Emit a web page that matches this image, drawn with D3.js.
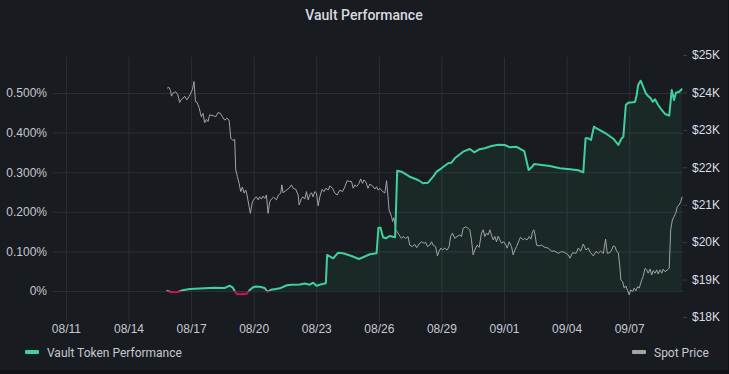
<!DOCTYPE html>
<html>
<head>
<meta charset="utf-8">
<script src="https://cdn.jsdelivr.net/npm/d3@7"></script>
<style>
  body { margin: 0; background: #111217; }
  svg { display: block; font-family: Roboto, Inter, sans-serif; }
  .title { fill: #d8d9e0; font-size: 14px; font-weight: 500; }
  .tick text { fill: #c7c8d2; font-size: 12px; }
  .legend-text { fill: #c7c8d2; font-size: 12px; }
  .grid line { stroke: #2c2f35; }
  .grid .domain { display: none; }
</style>
</head>
<body>
<svg></svg>
<script>
// x values are days after 08/11/2022
var xTickLabels = ["08/11","08/14","08/17","08/20","08/23","08/26","08/29","09/01","09/04","09/07"];
var leftTicks = [0, 0.1, 0.2, 0.3, 0.4, 0.5];
var rightTicks = [18000, 19000, 20000, 21000, 22000, 23000, 24000, 25000];

var vaultDays = [4.82,5.07,5.36,5.6,5.93,6.41,7.13,7.61,7.85,8.0,8.09,8.19,8.48,8.67,8.81,8.95,9.1,9.29,9.53,9.67,9.82,
  10.06,10.25,10.59,10.83,11.21,11.45,11.69,11.85,12.01,12.25,12.46,12.52,12.81,13.05,13.29,13.69,14.05,14.57,14.89,
  14.98,15.08,15.2,15.33,15.53,15.78,15.88,16.09,16.48,16.88,17.12,17.36,17.6,17.77,18.0,18.32,18.48,18.64,19.04,19.36,
  19.57,19.81,20.08,20.4,20.72,21.04,21.28,21.57,21.73,21.97,22.18,22.32,22.45,22.72,23.2,23.68,24.16,24.56,24.8,24.91,
  25.04,25.17,25.31,25.44,25.92,26.24,26.48,26.64,26.72,26.84,26.95,27.28,27.36,27.43,27.55,27.67,27.8,27.91,28.03,
  28.13,28.24,28.39,28.56,28.72,28.92,29.04,29.15,29.24,29.4,29.54];
var vaultPerf = [0.001,-0.0033,-0.0025,0.0018,0.005,0.0063,0.0083,0.0076,0.0134,0.0083,0,-0.0076,-0.0083,-0.0068,0.0025,
  0.0088,0.0114,0.0106,0.0076,-0.0025,0.0033,0.0051,0.0068,0.0144,0.0159,0.0164,0.0189,0.0159,0.021,0.0134,0.0169,0.0194,
  0.0909,0.0826,0.0967,0.0952,0.0884,0.0808,0.0927,0.0952,0.1598,0.1598,0.1356,0.1331,0.1389,0.1356,0.3038,0.3013,0.2886,
  0.2803,0.272,0.2735,0.2886,0.3013,0.3098,0.3225,0.324,0.3351,0.3518,0.3586,0.3503,0.3578,0.3604,0.3662,0.3694,0.3687,
  0.3629,0.3644,0.3604,0.3535,0.3056,0.3124,0.3207,0.3189,0.3157,0.3098,0.3073,0.3048,0.2997,0.3856,0.3856,0.3813,0.4149,
  0.4104,0.3965,0.3846,0.3687,0.3856,0.3896,0.4697,0.4755,0.4773,0.4949,0.5202,0.5311,0.5159,0.4992,0.4924,0.4866,0.478,
  0.4841,0.4697,0.4571,0.447,0.4427,0.5076,0.4823,0.5008,0.5033,0.5109];

var spotDays = [4.85,4.93,5.01,5.06,5.13,5.26,5.37,5.45,5.54,5.61,5.69,5.8,5.9,5.97,6.06,6.14,6.21,6.28,6.38,6.45,6.49,
  6.57,6.65,6.73,6.81,6.89,7.05,7.18,7.29,7.41,7.5,7.61,7.72,7.82,7.85,7.9,8.01,8.09,8.14,8.22,8.3,8.38,8.46,8.54,8.62,
  8.68,8.78,8.84,8.94,9.05,9.13,9.21,9.29,9.37,9.45,9.53,9.61,9.69,9.77,9.85,9.96,10.09,10.19,10.3,10.35,10.41,10.57,
  10.7,10.81,10.89,11.02,11.13,11.18,11.29,11.37,11.45,11.53,11.61,11.69,11.77,11.85,11.93,12.01,12.09,12.17,12.28,
  12.37,12.46,12.57,12.65,12.78,12.89,13.0,13.13,13.26,13.37,13.48,13.61,13.69,13.77,13.85,13.93,14.05,14.13,14.22,
  14.28,14.37,14.48,14.57,14.7,14.81,14.89,14.96,15.05,15.13,15.2,15.29,15.37,15.44,15.49,15.61,15.66,15.72,15.81,
  15.88,15.97,16.09,16.16,16.29,16.4,16.48,16.61,16.72,16.81,16.93,17.05,17.16,17.25,17.33,17.44,17.53,17.6,17.72,
  17.81,17.88,17.97,18.05,18.16,18.27,18.37,18.44,18.53,18.64,18.75,18.88,18.96,19.04,19.17,19.28,19.36,19.44,19.52,
  19.6,19.71,19.81,19.92,20.0,20.08,20.16,20.24,20.32,20.4,20.48,20.56,20.64,20.72,20.8,20.88,20.99,21.09,21.15,21.25,
  21.36,21.44,21.52,21.6,21.73,21.79,21.92,22.0,22.11,22.21,22.29,22.37,22.43,22.49,22.56,22.69,22.8,22.96,23.12,23.28,
  23.44,23.6,23.76,23.92,24.08,24.16,24.29,24.45,24.56,24.67,24.8,24.93,25.04,25.15,25.28,25.41,25.52,25.63,25.76,
  25.87,25.95,26.08,26.16,26.24,26.32,26.4,26.48,26.56,26.6,26.69,26.76,26.84,26.93,27.0,27.07,27.17,27.24,27.32,
  27.41,27.48,27.6,27.67,27.76,27.84,27.91,28.0,28.08,28.15,28.24,28.32,28.39,28.48,28.56,28.63,28.72,28.83,28.92,
  28.99,29.07,29.15,29.23,29.31,29.39,29.47,29.54];
var spotPrice = [24110,24140,24050,23900,23980,24020,23930,23730,23820,23840,23900,23800,23890,23960,24070,24290,23750,
  23740,23600,23440,23350,23440,23190,23280,23220,23400,23380,23350,23460,23440,23350,23260,23310,23260,23090,22780,
  22710,22750,21930,21750,21570,21350,21470,21310,21390,21260,20950,20770,21080,21170,21210,21130,21210,21150,21230,
  21170,21260,20770,21080,21150,21200,21130,21260,21310,21530,21320,21390,21440,21530,21440,21410,21260,20990,21170,
  21210,21150,21350,21130,21260,21320,21210,21350,21310,20970,21210,21410,21350,21440,21390,21500,21440,21310,21260,
  21390,21350,21480,21640,21620,21620,21440,21530,21480,21570,21690,21570,21660,21620,21440,21550,21500,21420,21480,
  21390,21440,21380,21350,21310,21640,21210,20860,20680,20550,20650,20330,20280,20190,20100,20150,20100,20150,19920,
  19880,19940,19850,19950,20010,19970,19990,19880,19920,20010,19920,19880,19630,19750,19840,19790,19840,19790,19880,
  20150,20240,20100,20150,20190,20150,20370,20410,20370,20330,20060,19660,19790,19920,19860,20240,20330,20150,20240,
  20190,20330,20190,20060,20150,20010,20160,20060,19970,20010,19920,19840,20010,19880,19660,19790,19880,20060,20130,
  20060,20100,20060,20150,20080,20280,20330,20190,19920,19900,19920,19860,19840,19760,19760,19700,19750,19720,19660,
  19570,19720,19700,19840,19760,19950,19790,19840,19720,19630,19750,19700,19760,19700,20080,19700,19720,19790,19900,
  19880,19750,19720,19300,18990,18940,18770,18830,18700,18590,18720,18680,18770,18700,18810,18770,18990,19080,19300,
  19260,19170,19280,19120,19240,19170,19260,19150,19260,19170,19280,19210,19260,19300,20330,20590,20680,20770,20950,
  20990,21080,21210];

(function() {
var W = 729, H = 374;
var margin = { top: 57, right: 46, bottom: 52, left: 53 };
var svg = d3.select("svg").attr("width", W).attr("height", H);

svg.append("rect").attr("width", 728).attr("height", 370).attr("fill", "#181b1f");

var start = new Date(2022, 7, 11);
function toDate(d) { return new Date(start.getTime() + d * 864e5); }
var parseTick = d3.timeParse("%Y/%m/%d");
var xTicks = xTickLabels.map(function(s) { return parseTick("2022/" + s); });

var pLeft = margin.left, pRight = W - margin.right, pTop = margin.top, pBottom = H - margin.bottom;

var x = d3.scaleTime().domain([toDate(-0.62), toDate(29.58)]).range([pLeft, pRight]);
var yL = d3.scaleLinear().domain([-0.0783, 0.5909]).range([pBottom, pTop]);
var yR = d3.scaleLinear().domain([17866, 24946]).range([pBottom, pTop]);

// grid
svg.append("g").attr("class", "grid")
  .attr("transform", "translate(0," + pBottom + ")")
  .call(d3.axisBottom(x).tickValues(xTicks).tickSize(-(pBottom - pTop)).tickFormat(""));
svg.append("g").attr("class", "grid")
  .attr("transform", "translate(" + pLeft + ",0)")
  .call(d3.axisLeft(yL).tickValues(leftTicks).tickSize(-(pRight - pLeft)).tickFormat(""));

// axes
var xAxis = svg.append("g")
  .attr("transform", "translate(0," + pBottom + ")")
  .call(d3.axisBottom(x).tickValues(xTicks).tickSize(0).tickPadding(2).tickFormat(d3.timeFormat("%m/%d")));
xAxis.select(".domain").remove();

var lAxis = svg.append("g")
  .attr("transform", "translate(" + (pLeft - 2) + ",0)")
  .call(d3.axisLeft(yL).tickValues(leftTicks).tickSize(0).tickPadding(4)
    .tickFormat(function(d) { return d === 0 ? "0%" : d3.format(".3f")(d) + "%"; }));
lAxis.select(".domain").remove();

var rAxis = svg.append("g")
  .attr("transform", "translate(" + pRight + ",0)")
  .call(d3.axisRight(yR).tickValues(rightTicks).tickSize(4).tickPadding(5)
    .tickFormat(function(d) { return "$" + (d / 1000) + "K"; }));
rAxis.select(".domain").remove();
rAxis.selectAll(".tick line").attr("stroke", "#3a3d44");
rAxis.selectAll(".tick text").style("fill", "#dcdde4");

// data
var vault = vaultDays.map(function(d, i) { return { t: toDate(d), v: vaultPerf[i] }; });
var spot = spotDays.map(function(d, i) { return { t: toDate(d), v: spotPrice[i] }; });

var defs = svg.append("defs");
var grad = defs.append("linearGradient").attr("id", "perfStroke")
  .attr("gradientUnits", "userSpaceOnUse")
  .attr("x1", 0).attr("x2", 0).attr("y1", pTop).attr("y2", pBottom);
var zeroOff = (yL(0) - pTop) / (pBottom - pTop);
grad.append("stop").attr("offset", zeroOff).attr("stop-color", "#3fd09c");
grad.append("stop").attr("offset", zeroOff).attr("stop-color", "#cf1453");

svg.append("path")
  .datum(vault)
  .attr("fill", "#3fd09c")
  .attr("fill-opacity", 0.08)
  .attr("d", d3.area().x(function(d) { return x(d.t); }).y0(yL(0)).y1(function(d) { return yL(d.v); }));

svg.append("path")
  .datum(spot)
  .attr("fill", "none")
  .attr("stroke", "#a3a3a6")
  .attr("stroke-width", 1)
  .attr("d", d3.line().x(function(d) { return x(d.t); }).y(function(d) { return yR(d.v); }));

svg.append("path")
  .datum(vault)
  .attr("fill", "none")
  .attr("stroke", "url(#perfStroke)")
  .attr("stroke-width", 2)
  .attr("stroke-linejoin", "round")
  .attr("d", d3.line().x(function(d) { return x(d.t); }).y(function(d) { return yL(d.v); }));

// title
svg.append("text").attr("class", "title")
  .attr("x", 364).attr("y", 20).attr("text-anchor", "middle")
  .text("Vault Performance");

// legend
svg.append("rect").attr("x", 25).attr("y", 350).attr("width", 14).attr("height", 4).attr("rx", 1).attr("fill", "#3fd09c");
svg.append("text").attr("class", "legend-text").attr("x", 47).attr("y", 356.5).text("Vault Token Performance");
svg.append("rect").attr("x", 632).attr("y", 350).attr("width", 14).attr("height", 4).attr("rx", 1).attr("fill", "#a3a3a6");
svg.append("text").attr("class", "legend-text").attr("x", 654).attr("y", 356.5).text("Spot Price");
})();
</script>
</body>
</html>
